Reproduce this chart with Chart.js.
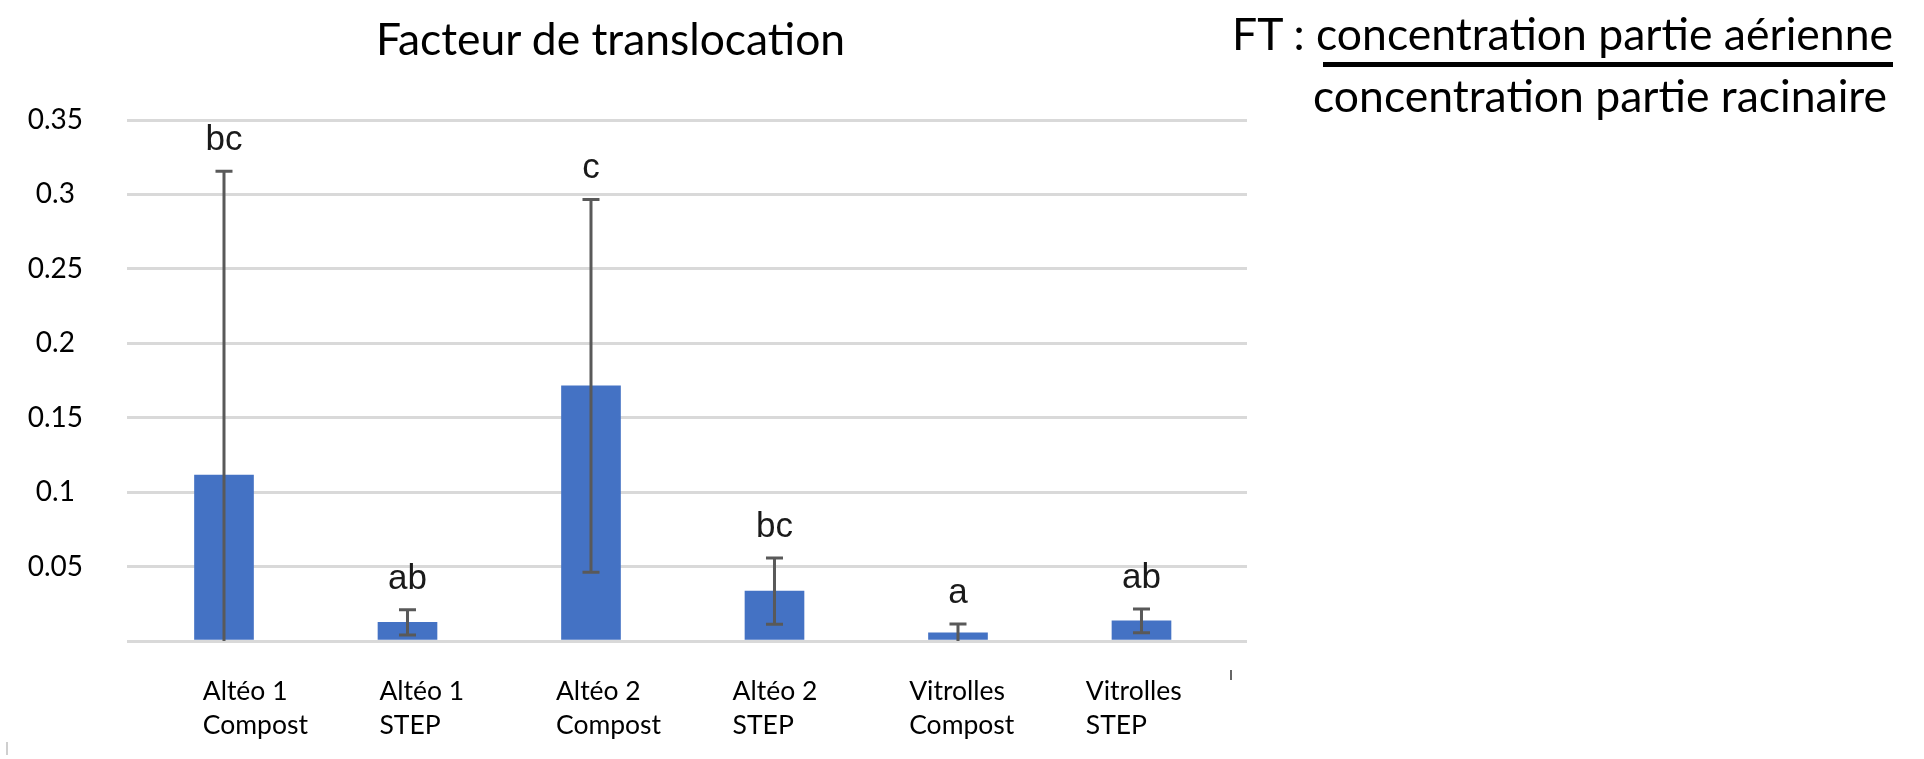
<!DOCTYPE html>
<html>
<head>
<meta charset="utf-8">
<script src="https://cdn.jsdelivr.net/npm/chart.js@4.4.1/dist/chart.umd.min.js"></script>
<style>
  html, body { margin: 0; padding: 0; background: #fff; }
  #wrap { position: relative; width: 1924px; height: 759px; overflow: hidden; background: #fff; }
  #c { position: absolute; left: 0; top: 0; }
  .txt { position: absolute; white-space: nowrap; color: #000; font-family: "Lato"; line-height: 1; }
  #rule { position: absolute; background: #000; }
  .mark { position: absolute; }
</style>
</head>
<body>
<div id="wrap">
  <canvas id="c" width="1924" height="759"></canvas>
  <div class="txt" id="title">Facteur de translocation</div>
  <div class="txt" id="num">FT : concentration partie aérienne</div>
  <div id="rule"></div>
  <div class="txt" id="den">concentration partie racinaire</div>
  <div class="mark" id="m1"></div>
  <div class="mark" id="m2"></div>
</div>
<script>
// ---------------- data ----------------
const categories = [
  ['Altéo 1', 'Compost'],
  ['Altéo 1', 'STEP'],
  ['Altéo 2', 'Compost'],
  ['Altéo 2', 'STEP'],
  ['Vitrolles', 'Compost'],
  ['Vitrolles', 'STEP']
];
const ftMean  = [0.1115, 0.0125, 0.1714, 0.0335, 0.0055, 0.0135];
const ftError = [0.2040, 0.0085, 0.1252, 0.0222, 0.0060, 0.0080];
const groupLetters = ['bc', 'ab', 'c', 'bc', 'a', 'ab'];
const yTickValues = [0, 0.05, 0.1, 0.15, 0.2, 0.25, 0.3, 0.35];
const yTickLabels = ['', '0.05', '0.1', '0.15', '0.2', '0.25', '0.3', '0.35'];
const titleText = 'Facteur de translocation';

// ---------------- text overlays ----------------
const mctx = document.createElement('canvas').getContext('2d');
function place(id, family, size, left, baseline) {
  const el = document.getElementById(id);
  el.style.fontFamily = '"' + family + '"';
  el.style.fontSize = size + 'px';
  mctx.font = size + 'px "' + family + '"';
  const m = mctx.measureText('Hg');
  const asc = m.fontBoundingBoxAscent, desc = m.fontBoundingBoxDescent;
  const halfLead = (size - (asc + desc)) / 2;
  el.style.left = left + 'px';
  el.style.top = (baseline - asc - halfLead) + 'px';
}
document.getElementById('title').textContent = titleText;
place('title', 'Lato', 44.4, 376, 56);
place('num', 'Lato', 44.5, 1232, 51);
place('den', 'Lato', 44.5, 1313, 113);
Object.assign(document.getElementById('rule').style, { left: '1323px', top: '62px', width: '570px', height: '5px' });
Object.assign(document.getElementById('m1').style, { left: '6px', top: '742px', width: '2px', height: '13px', background: '#cfcfcf' });
Object.assign(document.getElementById('m2').style, { left: '1230px', top: '670px', width: '2px', height: '10px', background: '#666' });

// ---------------- chart ----------------
const errorBars = {
  id: 'errorBars',
  afterDatasetsDraw(chart) {
    const meta = chart.getDatasetMeta(0);
    const ys = chart.scales.y;
    const ctx = chart.ctx;
    ctx.save();
    meta.data.forEach((bar, i) => {
      const hi = ftMean[i] + ftError[i];
      const lo = ftMean[i] - ftError[i];
      const yHi = ys.getPixelForValue(hi);
      const yLo = ys.getPixelForValue(Math.max(lo, ys.min));
      const cap = 8.5;
      ctx.strokeStyle = '#595959';
      ctx.lineWidth = 3;
      ctx.beginPath();
      ctx.moveTo(bar.x, yHi); ctx.lineTo(bar.x, yLo);
      ctx.moveTo(bar.x - cap, yHi); ctx.lineTo(bar.x + cap, yHi);
      if (lo > ys.min) { ctx.moveTo(bar.x - cap, yLo); ctx.lineTo(bar.x + cap, yLo); }
      ctx.stroke();
      ctx.fillStyle = '#1a1a1a';
      ctx.font = '35px "Liberation Sans"';
      ctx.textAlign = 'center';
      ctx.textBaseline = 'alphabetic';
      ctx.fillText(groupLetters[i], bar.x, yHi - 21);
    });
    ctx.restore();
  }
};

new Chart(document.getElementById('c'), {
  type: 'bar',
  data: {
    datasets: [{
      data: ftMean.map((v, i) => ({ x: i, y: v })),
      backgroundColor: '#4472C4',
      borderWidth: 0,
      barThickness: 59,
      xAxisID: 'x'
    }]
  },
  options: {
    responsive: false,
    animation: false,
    devicePixelRatio: 1,
    layout: { padding: { left: 0, top: 120, right: 677, bottom: 0 } },
    plugins: { legend: { display: false }, tooltip: { enabled: false }, title: { display: false } },
    scales: {
      // axis that positions the bars (its labels are carried by xLabels)
      x: {
        type: 'linear',
        display: false,
        offset: false,
        min: -0.5286,
        max: 5.575
      },
      // category label axis (labels sit slightly left of the bars, left-aligned)
      xLabels: {
        type: 'linear',
        axis: 'x',
        position: 'bottom',
        offset: false,
        min: -0.4292,
        max: 5.913,
        grid: { display: false },
        border: { display: false },
        afterBuildTicks: (a) => { a.ticks = categories.map((_, i) => ({ value: i })); },
        afterFit: (a) => { a.height = 118; },
        ticks: {
          callback: (v) => categories[v],
          align: 'start',
          padding: 25,
          maxRotation: 0,
          autoSkip: false,
          color: '#000',
          font: { family: 'Lato', size: 26.5, lineHeight: 1.3 }
        }
      },
      y: {
        min: 0,
        max: 0.35,
        afterBuildTicks: (a) => { a.ticks = yTickValues.map(v => ({ value: v })); },
        afterFit: (a) => { a.width = 127; },
        grid: { color: '#d9d9d9', lineWidth: 3, drawTicks: false },
        border: { display: false },
        ticks: {
          crossAlign: 'center',
          padding: 44,
          color: '#000',
          font: { family: 'Lato', size: 28 },
          callback: (v, i) => yTickLabels[i]
        }
      }
    }
  },
  plugins: [errorBars]
});
</script>
</body>
</html>
